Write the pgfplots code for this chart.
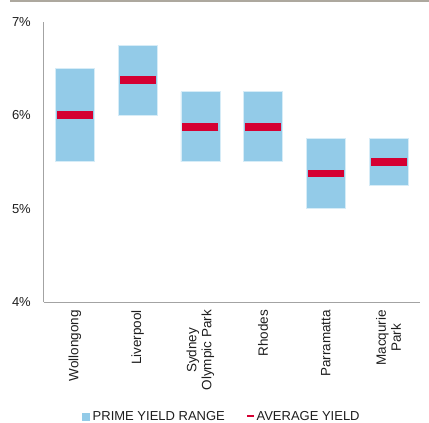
\documentclass[border=0pt]{standalone}
\usepackage{pgfplots}
\pgfplotsset{compat=1.18}
\usepackage{pgfplotstable}
\usepackage{fontspec}
\setmainfont{Liberation Sans}

\definecolor{rangeblue}{HTML}{93CBE8}
\definecolor{rangeedge}{HTML}{D6ECF7}
\definecolor{avgred}{HTML}{D50032}
\definecolor{axisgrey}{HTML}{A3A3A3}
\definecolor{topbar}{HTML}{ADA89E}
\definecolor{txt}{HTML}{1E1E1E}

% prime yield range (low, high) and average yield, in per cent
\pgfplotstableread{
x low  high  avg
0 5.50 6.50 6.000
1 6.00 6.75 6.375
2 5.50 6.25 5.875
3 5.50 6.25 5.875
4 5.00 5.75 5.375
5 5.25 5.75 5.500
}\yields

\newcommand{\lblfont}{\fontsize{13bp}{15bp}\selectfont}
\newcommand{\catfont}{\fontsize{13.5bp}{15bp}\selectfont}

\begin{document}
\begin{tikzpicture}
\path[use as bounding box] (0,0) rectangle (429bp,423bp);
\draw[topbar, line width=2bp] (10bp,422bp) -- (429bp,422bp);
\begin{axis}[
  at={(43.5bp,121bp)}, anchor=south west,
  scale only axis, width=376.5bp, height=280.3bp,
  ybar stacked, bar width=39bp,
  xmin=-0.5, xmax=5.5, ymin=4, ymax=7,
  axis x line*=bottom, axis y line*=left,
  axis line style={axisgrey, line width=1bp},
  tick align=inside,
  xtick={0,...,5},
  xticklabels={Wollongong, Liverpool, Sydney\\Olympic Park, Rhodes, Parramatta, Macqurie\\Park},
  x tick style={draw=none},
  extra x ticks={-0.5,0.5,1.5,2.5,3.5,4.5,5.5},
  extra x tick labels={},
  extra x tick style={major tick length=4bp, tick style={axisgrey, line width=1bp}},
  ytick={4,5,6,7},
  yticklabels={4\%,5\%,6\%,7\%},
  y tick style={draw=none},
  xticklabel style={rotate=90, anchor=east, align=center, inner sep=0pt, font=\catfont, text=txt},
  yticklabel style={anchor=east, inner sep=0pt, font=\lblfont, text=txt},
  xticklabel shift=8bp,
  yticklabel shift=12.5bp,
  clip=false,
  legend columns=2,
  legend style={draw=none, fill=none, font=\lblfont, text=txt,
    at={(0.471,-0.4085)}, anchor=center,
    /tikz/every even column/.append style={column sep=21bp},
    nodes={inner sep=0pt}},
  legend cell align=left,
]
% invisible base up to the lower end of each range
\addplot[draw=none, fill=none] table[x=x, y=low] {\yields};
% prime yield range
\addplot[fill=rangeblue, draw=rangeedge, line width=0.7bp,
  legend image code/.code={\fill[rangeblue] (0bp,-3.7bp) rectangle (7bp,3.3bp);\path (10bp,0bp);}]
  table[x=x, y expr=\thisrow{high}-\thisrow{low}] {\yields};
% average yield
\addplot[stack plots=false, sharp plot, draw=none, only marks, mark=-, mark size=18bp,
  mark options={avgred, line width=7.7bp},
  legend image code/.code={\draw[avgred, line width=2.3bp] (0bp,0.3bp) -- (6.5bp,0.3bp);\path (9.5bp,0bp);}]
  table[x=x, y=avg] {\yields};
\legend{,PRIME YIELD RANGE,AVERAGE YIELD}
\end{axis}
\end{tikzpicture}
\end{document}
